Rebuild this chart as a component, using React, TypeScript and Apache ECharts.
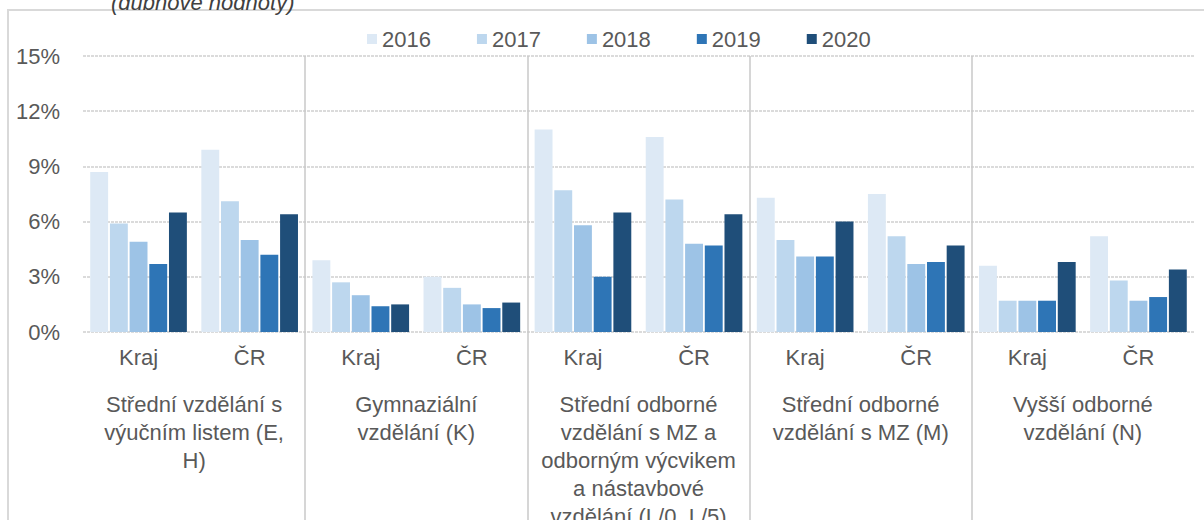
import React, { useEffect, useRef } from "react";
import * as echarts from "echarts";

const categories = ["Kraj", "ČR", "Kraj", "ČR", "Kraj", "ČR", "Kraj", "ČR", "Kraj", "ČR"];
const groups = [
  "Střední vzdělání s\nvýučním listem (E,\nH)",
  "Gymnaziální\nvzdělání (K)",
  "Střední odborné\nvzdělání s MZ a\nodborným výcvikem\na nástavbové\nvzdělání (L/0, L/5)",
  "Střední odborné\nvzdělání s MZ (M)",
  "Vyšší odborné\nvzdělání (N)",
];
const years = ["2016", "2017", "2018", "2019", "2020"];
const v2016 = [8.7, 9.9, 3.9, 3.0, 11.0, 10.6, 7.3, 7.5, 3.6, 5.2];
const v2017 = [5.9, 7.1, 2.7, 2.4, 7.7, 7.2, 5.0, 5.2, 1.7, 2.8];
const v2018 = [4.9, 5.0, 2.0, 1.5, 5.8, 4.8, 4.1, 3.7, 1.7, 1.7];
const v2019 = [3.7, 4.2, 1.4, 1.3, 3.0, 4.7, 4.1, 3.8, 1.7, 1.9];
const v2020 = [6.5, 6.4, 1.5, 1.6, 6.5, 6.4, 6.0, 4.7, 3.8, 3.4];
const seriesValues = [v2016, v2017, v2018, v2019, v2020];
const colors = ["#dde9f5", "#bdd7ee", "#9dc3e6", "#2e75b6", "#1f4e79"];
const yTicks = { min: 0, max: 15, interval: 3 };
const subtitle = "(dubnové hodnoty)";

const FONT = "'Liberation Sans', Arial, sans-serif";
const TXT = "#595959";
const sepLine = { show: true, showMinLine: false, showMaxLine: false, lineStyle: { color: "#c9c9c9", width: 1.5 } };

export default function App() {
  const ref = useRef<HTMLDivElement>(null);
  useEffect(() => {
    if (!ref.current) return;
    const chart = echarts.init(ref.current, null, { renderer: "svg" });
    chart.setOption({
      animation: false,
      backgroundColor: "#ffffff",
      textStyle: { fontFamily: FONT },
      title: {
        text: subtitle,
        left: 106,
        top: -14,
        textStyle: { fontFamily: FONT, fontSize: 22, fontStyle: "italic", fontWeight: "normal", color: "#404040" },
      },
      graphic: [
        {
          type: "rect",
          z: -10,
          shape: { x: 8, y: 10, width: 1300, height: 600 },
          style: { fill: "none", stroke: "#d9d9d9", lineWidth: 2 },
        },
      ],
      legend: {
        data: years,
        left: 362,
        top: 23,
        icon: "rect",
        itemWidth: 10,
        itemHeight: 10,
        itemGap: 46,
        textStyle: { fontFamily: FONT, fontSize: 22, color: TXT },
      },
      grid: [
        { left: 83, right: 10, top: 56, bottom: 188, outerBoundsMode: "none", containLabel: false },
        { left: 83, right: 10, top: 332, bottom: 0, outerBoundsMode: "none", containLabel: false },
      ],
      xAxis: [
        {
          type: "category",
          gridIndex: 0,
          data: categories,
          axisLine: { show: false },
          axisTick: { show: false },
          axisLabel: { fontFamily: FONT, fontSize: 22, color: TXT, margin: 14, interval: 0 },
        },
        {
          type: "category",
          gridIndex: 0,
          position: "bottom",
          data: groups,
          axisLine: { show: false },
          axisTick: { show: false },
          axisLabel: { fontFamily: FONT, fontSize: 22, color: TXT, margin: 58, lineHeight: 28, interval: 0 },
          splitLine: sepLine,
        },
        {
          type: "category",
          gridIndex: 1,
          data: groups,
          axisLine: { show: false },
          axisTick: { show: false },
          axisLabel: { show: false },
          splitLine: sepLine,
        },
      ],
      yAxis: [
        {
          type: "value",
          gridIndex: 0,
          min: yTicks.min,
          max: yTicks.max,
          interval: yTicks.interval,
          axisLine: { show: false },
          axisTick: { show: false },
          axisLabel: { fontFamily: FONT, fontSize: 22, color: TXT, margin: 23, formatter: "{value}%" },
          splitLine: { lineStyle: { color: "#d0d0d0", width: 1.5, type: [3, 1] } },
        },
        { type: "value", gridIndex: 1, show: false },
      ],
      series: years.map((y, i) => ({
        name: y,
        type: "bar",
        xAxisIndex: 0,
        yAxisIndex: 0,
        data: seriesValues[i],
        barGap: "10%",
        barCategoryGap: "13%",
        itemStyle: { color: colors[i] },
      })),
    });
    return () => chart.dispose();
  }, []);
  return <div ref={ref} style={{ position: "absolute", left: 0, top: 0, width: 1204, height: 520 }} />;
}
